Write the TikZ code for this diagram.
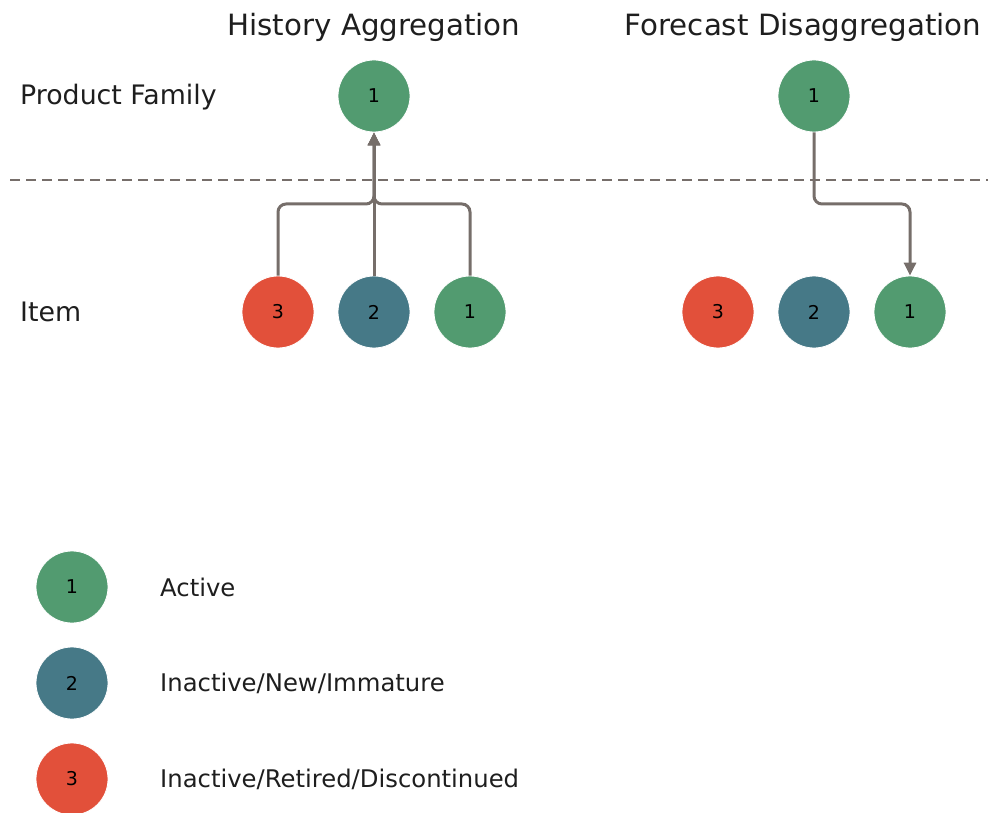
\documentclass[tikz,border=0pt]{standalone}
\usepackage{fontspec}
\setmainfont{DejaVu Sans}
\usetikzlibrary{arrows.meta}
\definecolor{cgreen}{RGB}{82,155,112}
\definecolor{cteal}{RGB}{70,121,135}
\definecolor{cred}{RGB}{226,80,58}
\definecolor{cline}{RGB}{118,110,106}
\definecolor{ctext}{RGB}{30,30,30}
\tikzset{
  dot/.style={circle, minimum size=72pt, inner sep=0pt, draw=white, line width=0.8pt, text=black, font=\fontsize{19}{21}\selectfont},
  act/.style={dot, fill=cgreen},
  newi/.style={dot, fill=cteal},
  ret/.style={dot, fill=cred},
  lbl/.style={anchor=west, inner sep=0pt, text=ctext, font=\fontsize{26.8}{30}\selectfont},
  leg/.style={anchor=west, inner sep=0pt, text=ctext, font=\fontsize{24.3}{28}\selectfont},
  ttl/.style={inner sep=0pt, text=ctext, font=\fontsize{29.3}{33}\selectfont},
  conn/.style={draw=cline, line width=3pt, rounded corners=8pt},
  arr/.style={-{Triangle[length=13pt,width=12pt]}},
  sep/.style={draw=cline, line width=2.2pt, dash pattern=on 10pt off 6pt}
}
\begin{document}
\begin{tikzpicture}[x=1pt,y=-1pt]
\useasboundingbox (0,0) rectangle (988,813);
% titles
\node[ttl] (t1) at (374,27) {History Aggregation};
\node[ttl] (t2) at (803,27) {Forecast Disaggregation};
% row labels
\node[lbl] (pf) at (20,97) {Product Family};
\node[lbl] (it) at (20,312) {Item};
% separator
\coordinate (s1) at (10,180);
\coordinate (s2) at (988,180);
\draw[sep] (s1) -- (s2);
% history aggregation
\node[act] (hp) at (374,96) {1};
\node[ret] (h3) at (278,312) {3};
\node[newi] (h2) at (374,312) {2};
\node[act] (h1) at (470,312) {1};
\draw[conn,arr] (h3.north) |- (374,204) -- (hp.south);
\draw[conn,arr] (h1.north) |- (374,204) -- (hp.south);
\draw[conn,arr] (h2.north) -- (hp.south);
% forecast disaggregation
\node[act] (fp) at (814,96) {1};
\node[ret] (f3) at (718,312) {3};
\node[newi] (f2) at (814,312) {2};
\node[act] (f1) at (910,312) {1};
\draw[conn,arr] (fp.south) |- (910,204) -- (f1.north);
% legend
\node[act] (l1) at (72,587) {1};
\node[newi] (l2) at (72,683) {2};
\node[ret] (l3) at (72,779) {3};
\node[leg] (lt1) at (160,587) {Active};
\node[leg] (lt2) at (160,683) {Inactive/New/Immature};
\node[leg] (lt3) at (160,779) {Inactive/Retired/Discontinued};
\end{tikzpicture}
\end{document}
